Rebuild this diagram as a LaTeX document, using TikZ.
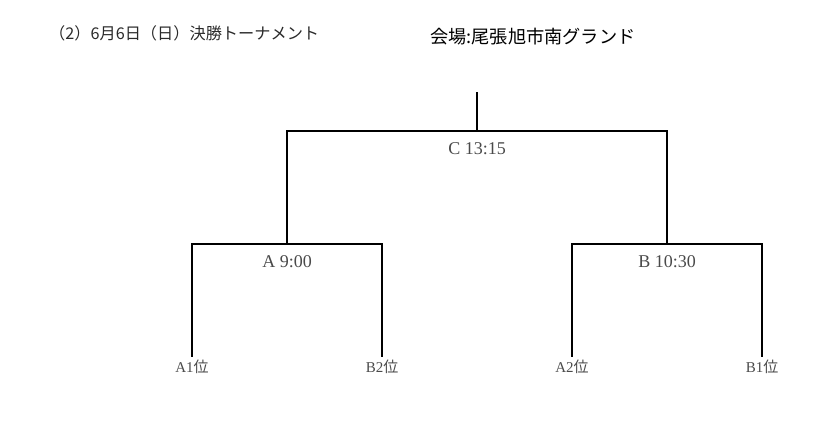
\documentclass[tikz,border=0pt]{standalone}
\usepackage{fontspec}
\setmainfont{Liberation Serif}
\newfontfamily\jpsans{Noto Sans CJK JP}
\usetikzlibrary{positioning}
\definecolor{labelgray}{HTML}{4A4A4A}
\definecolor{titlegray}{HTML}{2A2A2A}
\newcommand{\rank}[1]{#1{\jpsans 位}}

\begin{document}
\begin{tikzpicture}[x=1pt,y=-1pt,
		bracket/.style={line width=2.6pt, line cap=rect},
		match/.style={text=labelgray, font=\fontsize{18}{20}\selectfont, inner sep=0pt},
		seed/.style={text=labelgray, font=\fontsize{15}{17}\selectfont, inner sep=0pt}]
		\useasboundingbox (0,0) rectangle (818,426);

		\node[anchor=west, text=titlegray, font=\jpsans\fontsize{16.2}{18}\selectfont, inner sep=0pt] (title) at (49,33) {（2）6月6日（日）決勝トーナメント};
		\node[anchor=west, text=black, font=\jpsans\fontsize{18.2}{20}\selectfont, inner sep=0pt] (venue) at (430,37) {会場:尾張旭市南グランド};

		\coordinate (final) at (477,93);
		\coordinate (cbar) at (477,131);
		\coordinate (abar) at (287,244);
		\coordinate (bbar) at (667,244);
		\coordinate (a1) at (192,356);
		\coordinate (b2) at (382,356);
		\coordinate (a2) at (572,356);
		\coordinate (b1) at (762,356);

		\draw[bracket] (final) -- (cbar);
		\draw[bracket] (abar) |- (cbar) -| (bbar);
		\draw[bracket] (a1) |- (abar) -| (b2);
		\draw[bracket] (a2) |- (bbar) -| (b1);

		\node[match] (c) at (477,149) {C 13:15};
		\node[match] (a) at (287,262) {A 9:00};
		\node[match] (b) at (667,262) {B 10:30};

		\node[seed, below=4pt of a1] (a1name) {\rank{A1}};
		\node[seed, below=4pt of b2] (b2name) {\rank{B2}};
		\node[seed, below=4pt of a2] (a2name) {\rank{A2}};
		\node[seed, below=4pt of b1] (b1name) {\rank{B1}};
	\end{tikzpicture}
\end{document}
